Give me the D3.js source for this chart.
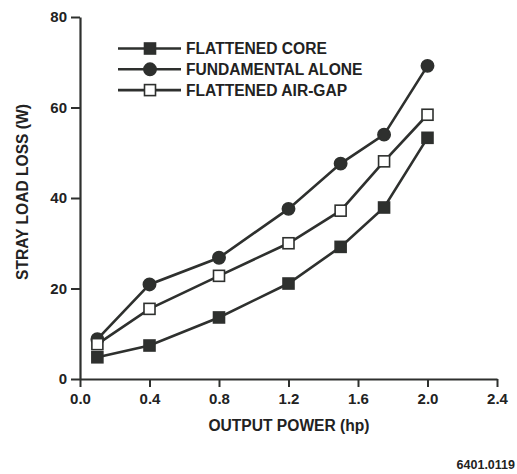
<!DOCTYPE html>
<meta charset="utf-8">
<html>
<head>
<style>
  body { margin: 0; background: #fff; }
  text { font-family: "Liberation Sans", Arial, sans-serif; font-weight: bold; fill: #222; }
  .tick text { font-size: 15px; }
  .legend text { font-size: 15.6px; }
</style>
<script src="https://cdn.jsdelivr.net/npm/d3@7"></script>
</head>
<body>
<div id="chart"></div>
<script>
// output power (hp)
var power = [0.1, 0.4, 0.8, 1.2, 1.5, 1.75, 2.0];
var seriesNames = ["FLATTENED CORE", "FUNDAMENTAL ALONE", "FLATTENED AIR-GAP"];
var flattenedCore = [4.8, 7.4, 13.6, 21.1, 29.2, 37.9, 53.3];
var fundamentalAlone = [8.8, 20.9, 26.8, 37.6, 47.6, 54.0, 69.2];
var flattenedAirGap = [7.7, 15.5, 22.8, 30.0, 37.2, 48.1, 58.4];
var xTicks = [0.0, 0.4, 0.8, 1.2, 1.6, 2.0, 2.4];
var yTicks = [0, 20, 40, 60, 80];

var width = 517, height = 474;
var ink = "#2e302e";

var svg = d3.select("#chart").append("svg")
    .attr("width", width)
    .attr("height", height);

var x = d3.scaleLinear().domain([0, 2.4]).range([80, 497]);
var y = d3.scaleLinear().domain([0, 80]).range([379, 17]);

// axes
var xAxis = svg.append("g")
    .attr("transform", "translate(0," + y(0) + ")")
    .call(d3.axisBottom(x).tickValues(xTicks).tickFormat(d3.format(".1f")).tickSize(8).tickSizeOuter(0).tickPadding(6));
var yAxis = svg.append("g")
    .attr("transform", "translate(" + x(0) + ",0)")
    .call(d3.axisLeft(y).tickValues(yTicks).tickSize(9).tickSizeOuter(0).tickPadding(4));

[xAxis, yAxis].forEach(function(a) {
  a.select(".domain").attr("stroke", ink).attr("stroke-width", 2.2);
  a.selectAll(".tick line").attr("stroke", ink).attr("stroke-width", 2);
  a.selectAll(".tick text").attr("fill", "#222");
});

// axis titles
svg.append("text")
    .attr("x", 289)
    .attr("y", 431)
    .attr("text-anchor", "middle")
    .style("font-size", "15.6px")
    .text("OUTPUT POWER (hp)");

svg.append("text")
    .attr("transform", "translate(28,192) rotate(-90)")
    .attr("text-anchor", "middle")
    .style("font-size", "15.6px")
    .text("STRAY LOAD LOSS (W)");

svg.append("text")
    .attr("x", 515)
    .attr("y", 469)
    .attr("text-anchor", "end")
    .style("font-size", "12.5px")
    .text("6401.0119");

var series = [
  { name: seriesNames[0], values: flattenedCore, shape: "square", fill: ink },
  { name: seriesNames[1], values: fundamentalAlone, shape: "circle", fill: ink },
  { name: seriesNames[2], values: flattenedAirGap, shape: "square", fill: "#fff" }
];

var line = d3.line()
    .x(function(d, i) { return x(power[i]); })
    .y(function(d) { return y(d); });

function drawMarker(g, s, cx, cy) {
  if (s.shape === "circle") {
    g.append("circle")
      .attr("cx", cx).attr("cy", cy).attr("r", 6.2)
      .attr("fill", s.fill).attr("stroke", ink).attr("stroke-width", 1.5);
  } else {
    g.append("rect")
      .attr("x", cx - 5.5).attr("y", cy - 5.5)
      .attr("width", 11).attr("height", 11)
      .attr("fill", s.fill).attr("stroke", ink).attr("stroke-width", 1.6);
  }
}

series.forEach(function(s) {
  var g = svg.append("g");
  g.append("path")
    .datum(s.values)
    .attr("fill", "none")
    .attr("stroke", ink)
    .attr("stroke-width", 2.6)
    .attr("d", line);
  s.values.forEach(function(v, i) { drawMarker(g, s, x(power[i]), y(v)); });
});

// legend
var legend = svg.append("g").attr("class", "legend");
series.forEach(function(s, i) {
  var ly = 48.5 + i * 20.8;
  legend.append("line")
    .attr("x1", 118).attr("x2", 181)
    .attr("y1", ly).attr("y2", ly)
    .attr("stroke", ink).attr("stroke-width", 2.6);
  drawMarker(legend, s, 150, ly);
  legend.append("text")
    .attr("x", 186)
    .attr("y", ly + 5.5)
    .text(s.name);
});
</script>
</body>
</html>
